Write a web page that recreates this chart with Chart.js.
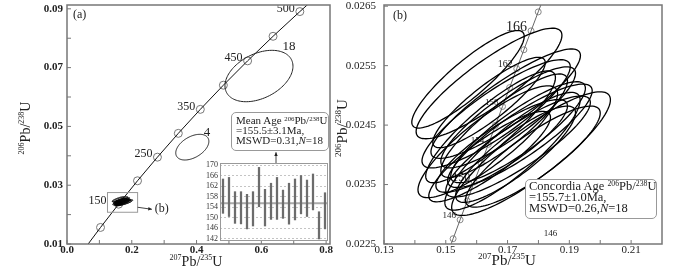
<!DOCTYPE html>
<html>
<head>
<meta charset="utf-8">
<title>U-Pb concordia</title>
<script src="https://cdn.jsdelivr.net/npm/chart.js@4.4.1/dist/chart.umd.min.js"></script>
<style>
  html, body { margin: 0; background: #fff; }
  #fig { position: relative; width: 700px; height: 267px; overflow: hidden; font-family: 'Liberation Serif', 'Times New Roman', serif; color: #222; }
  #fig canvas { position: absolute; }
  #concA { left: 0; top: 0; }
  #concB { left: 332px; top: 0; }
  #meanAge { left: 196px; top: 158px; }
  .note { position: absolute; box-sizing: border-box; border: 1px solid #999; border-radius: 5px; background: #fff; white-space: nowrap; }
  .note sup { font-size: 62%; line-height: 0; vertical-align: 0.5em; }
</style>
</head>
<body>
<div id="fig">
  <canvas id="concA" width="345" height="267"></canvas>
  <canvas id="concB" width="368" height="267"></canvas>
  <canvas id="meanAge" width="136" height="86"></canvas>
  <div class="note" style="left:231px; top:112px; width:98px; height:39px; padding:2px 0 0 4px; font-size:11px; line-height:10px;">Mean Age <sup>206</sup>Pb/<sup>238</sup>U<br>=155.5±3.1Ma,<br>MSWD=0.31,<i>N</i>=18</div>
  <div class="note" style="left:525px; top:179px; width:132px; height:40px; padding:1px 0 0 3px; font-size:12.5px; line-height:11px;">Concordia Age <sup>206</sup>Pb/<sup>238</sup>U<br>=155.7±1.0Ma,<br>MSWD=0.26,<i>N</i>=18</div>
</div>
<script>
const SERIF = "'Liberation Serif', 'Times New Roman', serif";

// concordia, panel (a): age (Ma), 207Pb/235U, 206Pb/238U
const agesA = [60, 100, 150, 200, 250, 300, 350, 400, 450, 500, 550, 570];
const pb207A = [0.0609, 0.1035, 0.1592, 0.2177, 0.2792, 0.3437, 0.4116, 0.4828, 0.5576, 0.6362, 0.7189, 0.7531];
const pb206A = [0.00935, 0.01563, 0.02354, 0.03151, 0.03954, 0.04764, 0.05580, 0.06402, 0.07230, 0.08065, 0.08906, 0.09245];
const ageLabelsA = ['', '', '150', '', '250', '', '350', '', '450', '', '500', ''];
const xTicksA = [0, 0.1, 0.2, 0.3, 0.4, 0.5, 0.6, 0.7, 0.8];
const yTicksA = [0.01, 0.02, 0.03, 0.04, 0.05, 0.06, 0.07, 0.08, 0.09];

// two discordant grains in panel (a)
const oddGrain = ['4', '18'];
const oddX = [0.3869, 0.5927];
const oddY = [0.04294, 0.06714];
const oddErrX = [0.0511, 0.105];
const oddErrY = [0.00437, 0.00874];
const oddRho = [0.45, 0.38];

// 18 concordant spots (ellipse centre, half widths, correlation)
const spotX = [0.1572, 0.1640, 0.1663, 0.1636, 0.1716, 0.1776, 0.1694, 0.1689, 0.1681, 0.1645, 0.1734, 0.1726, 0.1702, 0.1740, 0.1640, 0.1734, 0.1782, 0.1642];
const spotY = [0.02527, 0.02520, 0.02469, 0.02422, 0.02406, 0.02402, 0.02486, 0.02449, 0.02415, 0.02447, 0.02414, 0.02401, 0.02463, 0.02432, 0.02488, 0.02438, 0.02397, 0.02397];
const errX = [0.0182, 0.0236, 0.0240, 0.0226, 0.0219, 0.0257, 0.0242, 0.0205, 0.0213, 0.0210, 0.0234, 0.0194, 0.0218, 0.0234, 0.0182, 0.0218, 0.0218, 0.0197];
const errY = [0.00082, 0.00093, 0.00091, 0.00094, 0.00099, 0.00104, 0.00092, 0.00087, 0.00078, 0.00094, 0.00085, 0.00081, 0.00085, 0.00087, 0.00076, 0.00085, 0.00085, 0.00076];
const rho = [0.88, 0.87, 0.87, 0.86, 0.87, 0.87, 0.88, 0.87, 0.86, 0.88, 0.87, 0.86, 0.87, 0.87, 0.88, 0.87, 0.86, 0.87];

// concordia, panel (b)
const agesB = [142, 144, 146, 148, 150, 152, 154, 156, 158, 160, 162, 164, 166, 168, 170];
const pb207B = [0.15010, 0.15237, 0.15464, 0.15692, 0.15920, 0.16148, 0.16377, 0.16607, 0.16837, 0.17067, 0.17298, 0.17529, 0.17761, 0.17993, 0.18226];
const pb206B = [0.022272, 0.022589, 0.022907, 0.023224, 0.023542, 0.023859, 0.024177, 0.024495, 0.024813, 0.025131, 0.025449, 0.025767, 0.026085, 0.026404, 0.026722];
const ageLabelsB = ['', '', '146', '', '150', '', '154', '', '158', '', '162', '', '166', '', ''];
const xTicksB = [0.13, 0.14, 0.15, 0.16, 0.17, 0.18, 0.19, 0.20, 0.21];
const yTicksB = [0.0225, 0.0235, 0.0245, 0.0255, 0.0265];

// inset: 206Pb/238U ages (Ma) with error bars
const spotNo = ['1', '2', '3', '4', '5', '6', '7', '8', '9', '10', '11', '12', '13', '14', '15', '16', '17', '18'];
const ageLow = [151.7, 150.5, 147.9, 147.7, 145.8, 146.9, 154.2, 146.9, 149.4, 149.4, 149.8, 147.6, 149.2, 151.5, 150.5, 153.0, 142.0, 145.8];
const ageHigh = [164.7, 165.3, 159.9, 159.9, 158.9, 159.9, 169.1, 160.8, 163.1, 165.3, 160.5, 163.1, 164.7, 166.0, 164.3, 166.6, 152.3, 159.5];
const meanAge = 155.5;
const ageTicks = [142, 146, 150, 154, 158, 162, 166, 170];

function pts(xs, ys) { return xs.map((v, i) => ({ x: v, y: ys[i] })); }

function ellipse(ctx, xs, ys, cx, cy, ex, ey, r) {
  const k = Math.sqrt(1 - r * r);
  ctx.beginPath();
  for (let i = 0; i <= 120; i++) {
    const t = i / 120 * 2 * Math.PI;
    const px = xs.getPixelForValue(cx + ex * Math.cos(t));
    const py = ys.getPixelForValue(cy + ey * (r * Math.cos(t) + k * Math.sin(t)));
    if (i) ctx.lineTo(px, py); else ctx.moveTo(px, py);
  }
  ctx.closePath();
  ctx.stroke();
}

function arrow(ctx, x0, y0, x1, y1, head) {
  const ang = Math.atan2(y1 - y0, x1 - x0);
  ctx.beginPath(); ctx.moveTo(x0, y0); ctx.lineTo(x1, y1); ctx.stroke();
  ctx.beginPath(); ctx.moveTo(x1, y1);
  ctx.lineTo(x1 - head * Math.cos(ang - 0.45), y1 - head * Math.sin(ang - 0.45));
  ctx.lineTo(x1 - head * Math.cos(ang + 0.45), y1 - head * Math.sin(ang + 0.45));
  ctx.closePath(); ctx.fill();
}

// isotope ratio axis title with raised mass numbers
function isoTitle(ctx, cx, cy, masses, size, vertical) {
  const big = `${size}px ${SERIF}`, small = `${Math.round(size * 0.6)}px ${SERIF}`;
  const parts = [[masses[0], small, true], ['Pb/', big, false], [masses[1], small, true], ['U', big, false]];
  ctx.save();
  ctx.fillStyle = '#222'; ctx.textBaseline = 'alphabetic'; ctx.textAlign = 'left';
  const widths = parts.map(p => { ctx.font = p[1]; return ctx.measureText(p[0]).width; });
  const total = widths.reduce((s, w) => s + w, 0);
  ctx.translate(cx, cy);
  if (vertical) ctx.rotate(-Math.PI / 2);
  let pos = -total / 2;
  const base = size * 0.34;
  parts.forEach((p, i) => {
    ctx.font = p[1];
    ctx.fillText(p[0], pos, p[2] ? base - size * 0.4 : base);
    pos += widths[i];
  });
  ctx.restore();
}

// plot frame and short inward ticks
function frame(chart, len) {
  const { ctx, chartArea: a, scales: { x, y } } = chart;
  ctx.save();
  ctx.strokeStyle = '#777';
  ctx.lineWidth = 1;
  ctx.beginPath();
  x.ticks.forEach(t => { const p = x.getPixelForValue(t.value); ctx.moveTo(p, a.bottom); ctx.lineTo(p, a.bottom - len); });
  y.ticks.forEach(t => { const p = y.getPixelForValue(t.value); ctx.moveTo(a.left, p); ctx.lineTo(a.left + len, p); });
  ctx.stroke();
  ctx.lineWidth = 1.5;
  ctx.strokeRect(a.left, a.top, a.right - a.left, a.bottom - a.top);
  ctx.restore();
}

function axis(o) {
  return {
    type: 'linear', min: o.min, max: o.max,
    afterBuildTicks: s => { s.ticks = o.ticks.map(v => ({ value: v })); },
    afterFit: s => {
      if (s.isHorizontal()) s.height = o.size; else s.width = o.size;
      s.paddingTop = s.paddingBottom = s.paddingLeft = s.paddingRight = 0;
    },
    grid: { display: false, drawTicks: false },
    border: { display: false },
    ticks: {
      padding: o.pad, autoSkip: false, maxRotation: 0, color: '#222',
      font: { family: SERIF, size: 11, weight: o.weight || 'normal' },
      callback: o.fmt
    }
  };
}

const common = {
  responsive: false, animation: false, events: [],
  plugins: { legend: { display: false }, tooltip: { enabled: false } }
};

// ---------- panel (a)
new Chart(document.getElementById('concA'), {
  type: 'scatter',
  data: {
    datasets: [
      { data: pts(pb207A, pb206A), showLine: true, borderColor: '#111', borderWidth: 1, pointRadius: 0 },
      { data: pts(pb207A, pb206A).slice(1, -1), pointRadius: 4, pointBackgroundColor: '#fff',
        pointBorderColor: '#777', pointBorderWidth: 1 }
    ]
  },
  options: {
    ...common,
    layout: { padding: { top: 2, right: 15, left: 0, bottom: 0 } },
    scales: {
      x: axis({ min: 0, max: 0.812, ticks: xTicksA, size: 23, pad: 0, weight: 'bold',
        fmt: (v, i) => i % 2 ? '' : v.toFixed(1) }),
      y: axis({ min: 0.01, max: 0.0913, ticks: yTicksA, size: 67, pad: 4, weight: 'bold',
        fmt: (v, i) => i % 2 ? '' : v.toFixed(2) })
    }
  },
  plugins: [{
    id: 'panelA',
    afterDatasetsDraw(chart) {
      const { ctx, chartArea: a, scales: { x, y } } = chart;
      ctx.save();
      ctx.beginPath(); ctx.rect(a.left, a.top, a.right - a.left, a.bottom - a.top); ctx.clip();
      ctx.fillStyle = '#222';
      ctx.font = `12px ${SERIF}`;
      ctx.textAlign = 'right'; ctx.textBaseline = 'middle';
      ageLabelsA.forEach((t, i) => {
        if (!t) return;
        const dx = t === '150' ? -12 : -5;
        ctx.fillText(t, x.getPixelForValue(pb207A[i]) + dx, y.getPixelForValue(pb206A[i]) - 3);
      });
      ctx.strokeStyle = '#222'; ctx.lineWidth = 1;
      ctx.textAlign = 'center'; ctx.font = `13px ${SERIF}`;
      oddX.forEach((cx, i) => {
        ellipse(ctx, x, y, cx, oddY[i], oddErrX[i], oddErrY[i], oddRho[i]);
        ctx.fillText(oddGrain[i], x.getPixelForValue(cx + 0.88 * oddErrX[i]), y.getPixelForValue(oddY[i] + 1.15 * oddErrY[i]));
      });
      ctx.strokeStyle = '#000';
      spotX.forEach((cx, i) => ellipse(ctx, x, y, cx, spotY[i], errX[i], errY[i], rho[i]));
      // zoom window shown in (b)
      ctx.strokeStyle = '#999';
      const bx0 = x.getPixelForValue(0.125), bx1 = x.getPixelForValue(0.218);
      const by0 = y.getPixelForValue(0.0275), by1 = y.getPixelForValue(0.0208);
      ctx.strokeRect(bx0, by0, bx1 - bx0, by1 - by0);
      ctx.strokeStyle = '#444'; ctx.fillStyle = '#222';
      arrow(ctx, bx1, y.getPixelForValue(0.0225), x.getPixelForValue(0.262), y.getPixelForValue(0.0218), 4);
      ctx.textAlign = 'left'; ctx.font = `12px ${SERIF}`;
      ctx.fillText('(b)', x.getPixelForValue(0.271), y.getPixelForValue(0.0218));
      // pointer from inset to the mean-age note
      arrow(ctx, x.getPixelForValue(0.6453), y.getPixelForValue(0.0372), x.getPixelForValue(0.6453), y.getPixelForValue(0.0412), 4);
      ctx.fillText('(a)', a.left + 6, a.top + 10);
      ctx.restore();
      frame(chart, 4);
    },
    afterDraw(chart) {
      isoTitle(chart.ctx, 196, 261, ['207', '235'], 14, false);
      isoTitle(chart.ctx, 25, 128, ['206', '238'], 14, true);
    }
  }]
});

// ---------- panel (b)
const labelSizeB = { '146': 9, '150': 12, '154': 9, '158': 9, '162': 10, '166': 14 };
new Chart(document.getElementById('concB'), {
  type: 'scatter',
  data: {
    datasets: [
      { data: pts(pb207B, pb206B), showLine: true, borderColor: '#666', borderWidth: 1, pointRadius: 0 },
      { data: pts(pb207B, pb206B).slice(1, -1), pointRadius: 3, pointBackgroundColor: '#fff',
        pointBorderColor: '#888', pointBorderWidth: 1 }
    ]
  },
  options: {
    ...common,
    layout: { padding: { top: 1, right: 38, left: 0, bottom: 0 } },
    scales: {
      x: axis({ min: 0.13, max: 0.22, ticks: xTicksB, size: 23, pad: 0,
        fmt: (v, i) => i % 2 ? '' : v.toFixed(2) }),
      y: axis({ min: 0.0225, max: 0.02652, ticks: yTicksB, size: 52, pad: 8,
        fmt: v => v.toFixed(4) })
    }
  },
  plugins: [{
    id: 'panelB',
    afterDatasetsDraw(chart) {
      const { ctx, chartArea: a, scales: { x, y } } = chart;
      ctx.save();
      ctx.beginPath(); ctx.rect(a.left, a.top, a.right - a.left, a.bottom - a.top); ctx.clip();
      ctx.fillStyle = '#222'; ctx.textAlign = 'right'; ctx.textBaseline = 'middle';
      ageLabelsB.forEach((t, i) => {
        if (!t) return;
        ctx.font = `${labelSizeB[t]}px ${SERIF}`;
        ctx.fillText(t, x.getPixelForValue(pb207B[i]) - 4, y.getPixelForValue(pb206B[i]) - 4);
      });
      ctx.textAlign = 'center'; ctx.font = `9px ${SERIF}`;
      ctx.fillText('146', x.getPixelForValue(0.1839), y.getPixelForValue(0.02268));
      ctx.strokeStyle = '#000'; ctx.lineWidth = 1.3;
      spotX.forEach((cx, i) => ellipse(ctx, x, y, cx, spotY[i], errX[i], errY[i], rho[i]));
      ctx.textAlign = 'left'; ctx.font = `12px ${SERIF}`;
      ctx.fillText('(b)', a.left + 9, a.top + 11);
      ctx.restore();
      frame(chart, 4);
    },
    afterDraw(chart) {
      isoTitle(chart.ctx, 175, 260, ['207', '235'], 15, false);
      isoTitle(chart.ctx, 10, 128, ['206', '238'], 15, true);
    }
  }]
});

// ---------- inset: 206Pb/238U ages of the spots and their mean
new Chart(document.getElementById('meanAge'), {
  type: 'bar',
  data: {
    labels: spotNo,
    datasets: [{ data: ageLow.map((lo, i) => [lo, ageHigh[i]]), backgroundColor: '#6c6c6c',
      barThickness: 1.6, borderWidth: 0 }]
  },
  options: {
    ...common,
    layout: { padding: { top: 5, right: 4, bottom: 4, left: 0 } },
    scales: {
      x: { display: false },
      y: {
        type: 'linear', min: 141.6, max: 170.76,
        afterBuildTicks: s => { s.ticks = ageTicks.map(v => ({ value: v })); },
        afterFit: s => { s.width = 24; s.paddingTop = s.paddingBottom = 0; },
        grid: { color: '#c4c4c4', drawTicks: false },
        border: { display: false, dash: [2, 2] },
        ticks: { padding: 2, autoSkip: false, color: '#333', font: { family: SERIF, size: 8 } }
      }
    }
  },
  plugins: [{
    id: 'insetMean',
    beforeDatasetsDraw(chart) {
      const { ctx, chartArea: a, scales: { y } } = chart;
      const p = y.getPixelForValue(meanAge);
      ctx.save();
      ctx.strokeStyle = '#aaa'; ctx.lineWidth = 2;
      ctx.beginPath(); ctx.moveTo(a.left, p); ctx.lineTo(a.right, p); ctx.stroke();
      ctx.restore();
    },
    afterDraw(chart) {
      const { ctx, chartArea: a } = chart;
      ctx.save();
      ctx.strokeStyle = '#999'; ctx.lineWidth = 1;
      ctx.strokeRect(a.left + 0.5, a.top + 0.5, a.right - a.left - 1, a.bottom - a.top);
      ctx.restore();
    }
  }]
});
</script>
</body>
</html>
